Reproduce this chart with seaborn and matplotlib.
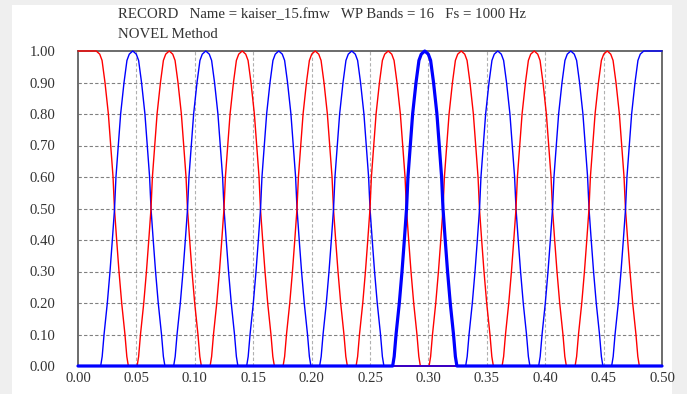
import numpy as np
import pandas as pd
import matplotlib
matplotlib.use("Agg")
import matplotlib.pyplot as plt
import seaborn as sns

# ---- data ----
band_centers = [0.0156, 0.0469, 0.0781, 0.1094, 0.1406, 0.1719, 0.2031, 0.2344,
                0.2656, 0.2969, 0.3281, 0.3594, 0.3906, 0.4219, 0.4531, 0.4844]
band_colors = ["red", "blue"] * 8
highlight_band = 9
# one-sided magnitude profile of a band (distance from band centre -> amplitude)
profile_offset = [0.0, 0.003, 0.005, 0.0075, 0.0104, 0.0124, 0.0144, 0.0156,
                  0.0175, 0.0195, 0.0218, 0.0246, 0.0262, 0.0275]
profile_value = [1.0, 0.99, 0.97, 0.90, 0.80, 0.70, 0.60, 0.50,
                 0.40, 0.30, 0.20, 0.10, 0.03, 0.0]
x_ticks = [0.00, 0.05, 0.10, 0.15, 0.20, 0.25, 0.30, 0.35, 0.40, 0.45, 0.50]
y_ticks = [0.00, 0.10, 0.20, 0.30, 0.40, 0.50, 0.60, 0.70, 0.80, 0.90, 1.00]
title_line1 = "RECORD   Name = kaiser_15.fmw   WP Bands = 16   Fs = 1000 Hz"
title_line2 = "NOVEL Method"
f_min, f_max = 0.0, 0.5

# ---- build long table ----
rows = []
off = np.array(profile_offset)
val = np.array(profile_value)
last = len(band_centers) - 1
for k, c in enumerate(band_centers):
    left_f = c - off[::-1]
    left_v = val[::-1]
    right_f = c + off[1:]
    right_v = val[1:]
    if k == 0:
        fr = np.concatenate([[f_min, c], right_f, [f_max]])
        vv = np.concatenate([[1.0, 1.0], right_v, [0.0]])
    elif k == last:
        fr = np.concatenate([[f_min], left_f, [f_max]])
        vv = np.concatenate([[0.0], left_v, [1.0]])
    else:
        fr = np.concatenate([[f_min], left_f, right_f, [f_max]])
        vv = np.concatenate([[0.0], left_v, right_v, [0.0]])
    for f, v in zip(fr, vv):
        rows.append({"band": k, "freq": f, "amp": v})
df = pd.DataFrame(rows)

# ---- plot ----
sns.set_theme(style="white")
plt.rcParams["font.family"] = ["Liberation Serif", "DejaVu Serif"]

fig = plt.figure(figsize=(6.87, 3.94), dpi=100)
fig.patch.set_facecolor("#efefef")
fig.add_artist(plt.Rectangle((12 / 687, 0), 660 / 687, 389 / 394,
                             transform=fig.transFigure, facecolor="white",
                             edgecolor="none", zorder=-10))
ax = fig.add_axes([78 / 687, 28 / 394, 584 / 687, 315 / 394])
ax.set_facecolor("white")

for k in range(len(band_centers)):
    if k == highlight_band:
        continue
    sub = df[df["band"] == k]
    sns.lineplot(data=sub, x="freq", y="amp", ax=ax, color=band_colors[k],
                 lw=1.0, estimator=None, sort=False, clip_on=False, zorder=3)
sub = df[df["band"] == highlight_band]
sns.lineplot(data=sub, x="freq", y="amp", ax=ax, color=band_colors[highlight_band],
             lw=2.3, estimator=None, sort=False, clip_on=False, zorder=4)

ax.set_xlim(f_min, f_max)
ax.set_ylim(0, 1)
ax.set_xticks(x_ticks)
ax.set_xticklabels([f"{t:.2f}" for t in x_ticks])
ax.set_yticks(y_ticks)
ax.set_yticklabels([f"{t:.2f}" for t in y_ticks])
ax.set_xlabel("")
ax.set_ylabel("")
ax.tick_params(axis="both", length=0, labelsize=10.6, colors="#333333")
ax.tick_params(axis="y", pad=16)
ax.tick_params(axis="x", pad=4)

for y in y_ticks[1:-1]:
    ax.axhline(y, color="#808080", lw=0.8, ls=(0, (3, 2)), zorder=1)
for x in x_ticks[1:-1]:
    ax.axvline(x, color="#b0b0b0", lw=0.8, ls=(0, (3, 2)), zorder=1)

for s in ax.spines.values():
    s.set_color("#606060")
    s.set_linewidth(1.3)
    s.set_zorder(2)

fig.text(118 / 687, 1 - 15 / 394, title_line1, fontsize=10.7, color="#333333",
         ha="left", va="center")
fig.text(118 / 687, 1 - 35 / 394, title_line2, fontsize=10.7, color="#333333",
         ha="left", va="center")

fig.savefig("out.png", dpi=100, facecolor=fig.get_facecolor())
